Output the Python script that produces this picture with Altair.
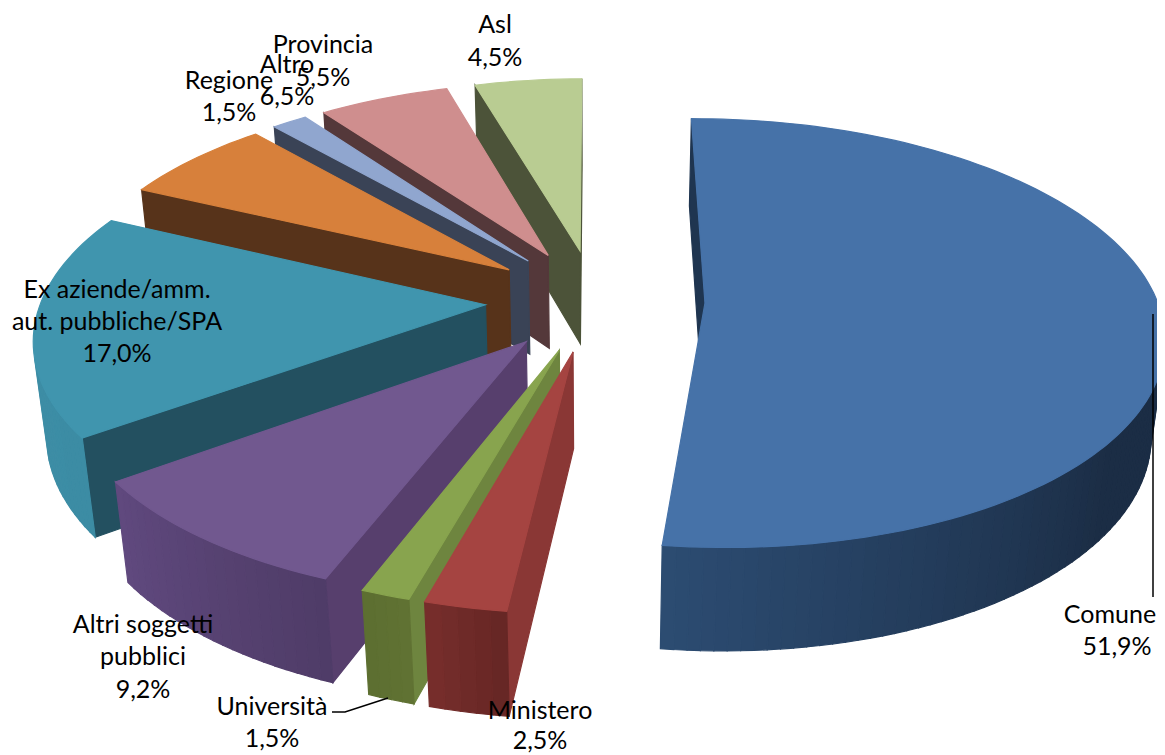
import math
import altair as alt

# Data
categories = ["Comune", "Ministero", "Università", "Altri soggetti pubblici",
              "Ex aziende/amm. aut. pubbliche/SPA", "Altro", "Regione", "Provincia", "Asl"]
shares = [51.9, 2.5, 1.5, 9.2, 17.0, 6.5, 1.5, 5.5, 4.5]

# Styles: top, radial wall, rim at slice start, rim at slice end, where the rim shade starts changing
top_colors = ["#4672A8", "#A54441", "#88A44E", "#71588F", "#4095AE", "#D7803B", "#90A6CF", "#CF8E8E", "#B9CC92"]
wall_colors = ["#1F3550", "#8A3735", "#6E853F", "#573F6D", "#235060", "#57331A", "#3A4356", "#54383A", "#4C5339"]
rim_a = ["#1B2D45", "#652624", "#607233", "#4F3C67", "#3C8CA4", "#57331A", "#3A4356", "#54383A", "#4C5339"]
rim_b = ["#2C4C72", "#782E2C", "#5D6F31", "#60497F", "#3F90A8", "#57331A", "#3A4356", "#54383A", "#4C5339"]
rim_from = [0.68, 0, 0, 0, 0, 0, 0, 0, 0]

# Geometry of the tilted, exploded pie
CX, CY, AX, AY, DEPTH, PERSP, PERSP_U, PERSP_Z, EXPLODE = 595, 300, 448, 209, 97, 0.14, -0.006, 0.024, 0.245


def project(u, v, z=0.0):
    d = 1 + PERSP * v + PERSP_U * u + PERSP_Z * z
    return [CX + AX * u / d, CY + (-AY * v + DEPTH * z) / d]


def mix(c1, c2, t):
    a = [int(c1[i:i + 2], 16) for i in (1, 3, 5)]
    b = [int(c2[i:i + 2], 16) for i in (1, 3, 5)]
    return "#" + "".join(f"{round(x + (y - x) * t):02x}" for x, y in zip(a, b))


def feature(points, color):
    ring = points + [points[0]]
    return {"type": "Feature", "properties": {"fill": color},
            "geometry": {"type": "Polygon", "coordinates": [ring]}}


def quad(a, b, color):
    """Wall under the edge a->b, or None when it faces away."""
    p = [project(*a), project(*b), project(b[0], b[1], 1), project(a[0], a[1], 1)]
    area = sum(p[i][0] * p[(i + 1) % 4][1] - p[(i + 1) % 4][0] * p[i][1] for i in range(4))
    return feature(p, color) if area < 0 else None


total = sum(shares)
slices = []
start = 0.0
for i, s in enumerate(shares):
    span = s / total * 360
    slices.append((i, start, start + span))
    start += span


def apex(s):
    mid = math.radians((s[1] + s[2]) / 2)
    return EXPLODE * math.sin(mid), EXPLODE * math.cos(mid)


features = []
for s in sorted(slices, key=lambda s: -apex(s)[1]):
    i, a0, a1 = s
    ox, oy = apex(s)
    n = max(4, int((a1 - a0) / 1.5))
    angles = [math.radians(a0 + (a1 - a0) * k / n) for k in range(n + 1)]
    rim = [(ox + math.sin(t), oy + math.cos(t)) for t in angles]
    centre = (ox, oy)
    walls = []
    for k in range(n):
        t = (k + 0.5) / n
        t = max(0.0, (t - rim_from[i]) / (1 - rim_from[i]))
        walls.append(quad(rim[k], rim[k + 1], mix(rim_a[i], rim_b[i], t)))
    w1, w2 = quad(centre, rim[0], wall_colors[i]), quad(rim[-1], centre, wall_colors[i])
    # back walls first, then rim, then the top face
    back = [w for w in (w1, w2) if w]
    back.sort(key=lambda f: min(q[1] for q in f["geometry"]["coordinates"][0]))
    features += back[:1] + [w for w in walls if w] + back[1:]
    features.append(feature([project(*centre)] + [project(*p) for p in rim], top_colors[i]))

# Data labels (hand-placed in the reference)
label_rows = [
    ("Asl", 495, 25), ("4,5%", 495, 58),
    ("Provincia", 323, 45), ("5,5%", 323, 78),
    ("Altro", 287, 65), ("6,5%", 287, 97),
    ("Regione", 229, 81), ("1,5%", 229, 113),
    ("Ex aziende/amm.", 117, 290), ("aut. pubbliche/SPA", 117, 322), ("17,0%", 117, 354),
    ("Altri soggetti", 143, 625), ("pubblici", 143, 657), ("9,2%", 143, 690),
    ("Università", 272, 707), ("1,5%", 272, 739),
    ("Ministero", 540, 711), ("2,5%", 540, 741),
    ("Comune", 1110, 615), ("51,9%", 1117, 647),
]
leaders = [
    ("c", 1153, 314), ("c", 1153, 597),
    ("u", 332, 712), ("u", 345, 712), ("u", 388, 698),
]

W, H = 1149, 747
x_scale = alt.Scale(domain=[8, 8 + W], range=[0, W])
y_scale = alt.Scale(domain=[8, 8 + H], range=[0, H])

pie = (
    alt.Chart(alt.Data(values=features))
    .mark_geoshape(strokeWidth=1.2)
    .encode(fill=alt.Fill("properties.fill:N", scale=None),
            stroke=alt.Stroke("properties.fill:N", scale=None))
    .project(type="identity", scale=1, translate=[-8, -8])
)

leader = (
    alt.Chart(alt.Data(values=[{"g": g, "x": x, "y": y, "o": k} for k, (g, x, y) in enumerate(leaders)]))
    .mark_line(color="#000000", strokeWidth=1.5)
    .encode(x=alt.X("x:Q", scale=x_scale, axis=None),
            y=alt.Y("y:Q", scale=y_scale, axis=None),
            detail="g:N", order="o:Q")
)

labels = (
    alt.Chart(alt.Data(values=[{"t": t, "x": x, "y": y} for t, x, y in label_rows]))
    .mark_text(font="Lato", fontSize=25, color="#000000", align="center", baseline="middle")
    .encode(x=alt.X("x:Q", scale=x_scale, axis=None),
            y=alt.Y("y:Q", scale=y_scale, axis=None),
            text="t:N")
)

chart = (
    alt.layer(pie, leader, labels)
    .resolve_scale(x="independent", y="independent")
    .properties(width=W, height=H, padding=0, background="#FFFFFF",
                autosize=alt.AutoSizeParams(type="none"))
    .configure_view(strokeWidth=0, stroke="transparent")
)

chart.save("out.html", embed_options={"renderer": "svg", "actions": False})
